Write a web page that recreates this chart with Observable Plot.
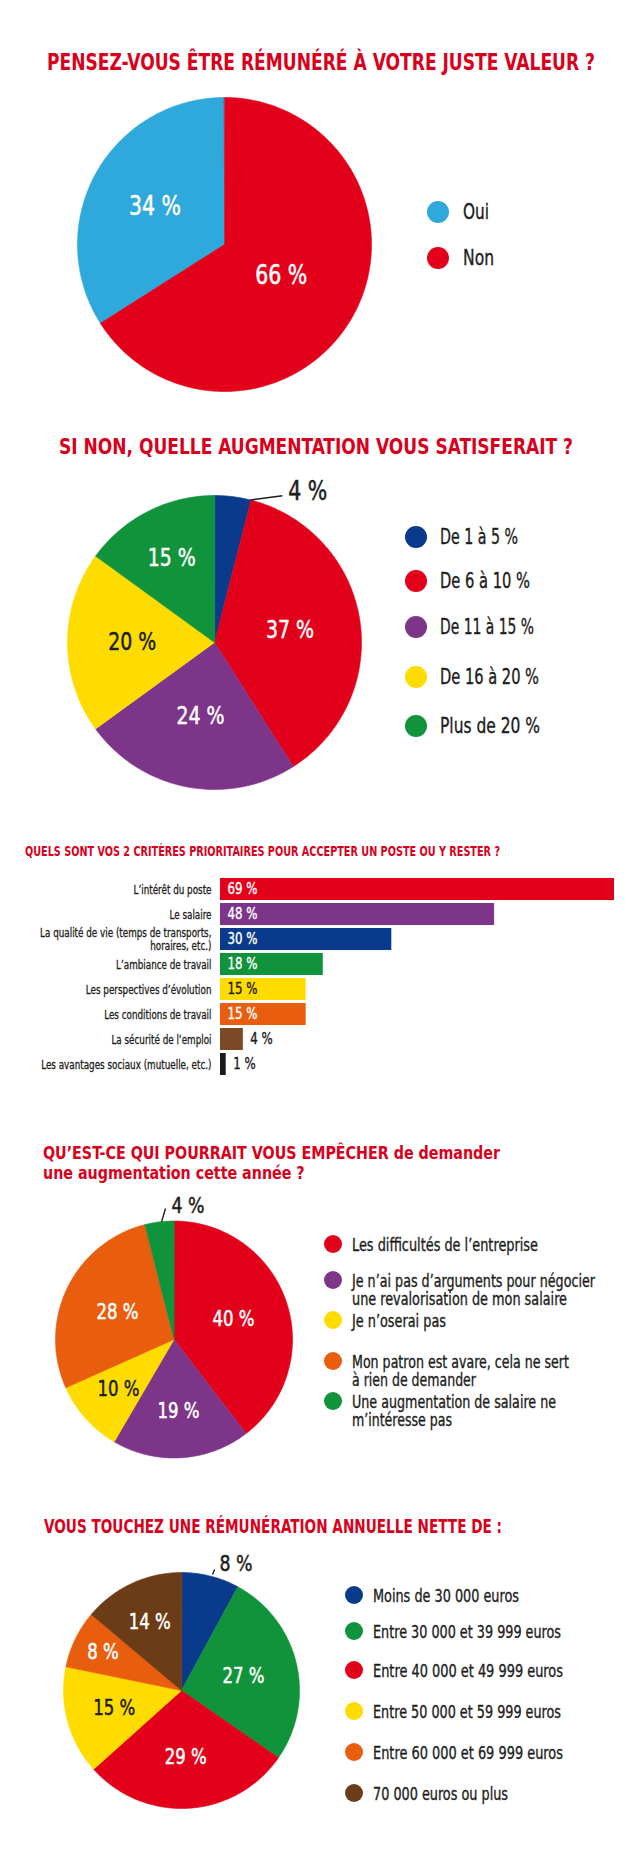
<!DOCTYPE html>
<html lang="fr">
<head>
<meta charset="utf-8">
<script src="https://cdn.jsdelivr.net/npm/d3@7"></script>
<script src="https://cdn.jsdelivr.net/npm/@observablehq/plot@0.6"></script>
<style>
  html, body { margin: 0; padding: 0; background: #fff; }
  #page { position: relative; width: 638px; height: 1851px; overflow: hidden; background: #fff;
    font-family: "Liberation Sans Narrow", "DejaVu Sans Condensed", "Arial Narrow", "DejaVu Sans", sans-serif;
    font-stretch: condensed; color: #1d1d1b; }
  .t { position: absolute; white-space: nowrap; transform-origin: 0 50%; }
  .dot { position: absolute; border-radius: 50%; }
  .plot { position: absolute; left: 0; }
  .plot svg { display: block; font-stretch: condensed; }
  .plot svg g[aria-label="y-axis tick label"] text { stroke: #1d1d1b; stroke-width: 0.3px; paint-order: stroke; }
</style>
</head>
<body>
<div id="page"></div>
<script>
// ---------------- DATA ----------------
const titles = [
  "PENSEZ-VOUS ÊTRE RÉMUNÉRÉ À VOTRE JUSTE VALEUR ?",
  "SI NON, QUELLE AUGMENTATION VOUS SATISFERAIT ?",
  "QUELS SONT VOS 2 CRITÈRES PRIORITAIRES POUR ACCEPTER UN POSTE OU Y RESTER ?",
  "QU’EST-CE QUI POURRAIT VOUS EMPÊCHER de demander\nune augmentation cette année ?",
  "VOUS TOUCHEZ UNE RÉMUNÉRATION ANNUELLE NETTE DE :"
];

const q1Categories = ["Oui", "Non"];
const q1Values = [34, 66];

const q2Categories = ["De 1 à 5 %", "De 6 à 10 %", "De 11 à 15 %", "De 16 à 20 %", "Plus de 20 %"];
const q2Values = [4, 37, 24, 20, 15];

const q3Categories = [
  "L’intérêt du poste",
  "Le salaire",
  "La qualité de vie (temps de transports, horaires, etc.)",
  "L’ambiance de travail",
  "Les perspectives d’évolution",
  "Les conditions de travail",
  "La sécurité de l’emploi",
  "Les avantages sociaux (mutuelle, etc.)"
];
const q3Values = [69, 48, 30, 18, 15, 15, 4, 1];

const q4Categories = [
  "Les difficultés de l’entreprise",
  "Je n’ai pas d’arguments pour négocier\nune revalorisation de mon salaire",
  "Je n’oserai pas",
  "Mon patron est avare, cela ne sert\nà rien de demander",
  "Une augmentation de salaire ne\nm’intéresse pas"
];
const q4Values = [40, 19, 10, 28, 4];

const q5Categories = [
  "Moins de 30 000 euros",
  "Entre 30 000 et 39 999 euros",
  "Entre 40 000 et 49 999 euros",
  "Entre 50 000 et 59 999 euros",
  "Entre 60 000 et 69 999 euros",
  "70 000 euros ou plus"
];
const q5Values = [8, 27, 29, 15, 8, 14];

// ---------------- STYLE ----------------
const RED = "#e2001a", LBLUE = "#2fa8dc", NAVY = "#0a3a8c", PURPLE = "#7d358a",
      YELLOW = "#ffdc00", GREEN = "#10933a", ORANGE = "#e95d0f", BROWN = "#6b3c16",
      TITLE = "#d9001c", INK = "#1d1d1b";
const FONT = '"Liberation Sans Narrow", "DejaVu Sans Condensed", "Arial Narrow", "DejaVu Sans", sans-serif';

const q1Colors = [LBLUE, RED];
const q2Colors = [NAVY, RED, PURPLE, YELLOW, GREEN];
const q3Colors = [RED, PURPLE, NAVY, GREEN, YELLOW, ORANGE, "#7b4a25", "#1a1a1a"];
const q4Colors = [RED, PURPLE, YELLOW, ORANGE, GREEN];
const q5Colors = [NAVY, GREEN, RED, YELLOW, ORANGE, BROWN];

// ---------------- HELPERS ----------------
const page = document.getElementById("page");
const fits = [];

function addText(str, o) {
  const el = document.createElement("div");
  el.className = "t";
  const lines = str.split("\n");
  lines.forEach((line, j) => {
    if (j) el.appendChild(document.createElement("br"));
    el.appendChild(document.createTextNode(line));
  });
  const lh = o.lh || o.size;
  el.style.left = o.x + "px";
  el.style.fontSize = o.size + "px";
  el.style.lineHeight = lh + "px";
  el.style.fontWeight = o.weight || 400;
  el.style.color = o.color || INK;
  const base = (lh - 1.117 * o.size) / 2 + 0.905 * o.size; // baseline offset inside the first line box
  const top = o.baseline != null ? o.baseline - base : o.cy + 0.3645 * o.size - base;
  el.style.top = top + "px";
  if (lines.length > 1) el.style.transformOrigin = "0 0";
  if (o.stroke) el.style.webkitTextStroke = o.stroke + "px " + (o.color || INK);
  page.appendChild(el);
  if (o.width) fits.push([el, o.width]);
  return el;
}
function addDot(x, y, r, color) {
  const d = document.createElement("div");
  d.className = "dot";
  Object.assign(d.style, {left: (x - r) + "px", top: (y - r) + "px", width: 2 * r + "px", height: 2 * r + "px", background: color});
  page.appendChild(d);
}
function doFit() {
  for (const [el, w] of fits) {
    el.style.transform = "none";
    const a = el.getBoundingClientRect().width;
    if (a > 0) el.style.transform = `scaleX(${w / a})`;
  }
}
function place(node, top) {
  const wrap = document.createElement("div");
  wrap.className = "plot";
  wrap.style.top = top + "px";
  wrap.appendChild(node);
  page.appendChild(wrap);
  return node;
}
// width of a string as SVG text in the page font (to compress SVG labels like the narrow original face)
function measureSvg(str, size) {
  const ns = "http://www.w3.org/2000/svg";
  const svg = document.createElementNS(ns, "svg");
  svg.setAttribute("style", `position:absolute;left:0;top:0;font-family:${FONT};font-stretch:condensed`);
  const t = document.createElementNS(ns, "text");
  t.setAttribute("font-size", size);
  t.textContent = str;
  svg.appendChild(t);
  page.appendChild(svg);
  const w = t.getComputedTextLength();
  page.removeChild(svg);
  return w;
}
let kText = 1, kNum = 1;
function condense(svg) {
  svg.querySelectorAll("text").forEach(t => {
    const k = /^\s*\d+\s*%\s*$/.test(t.textContent) ? kNum : kText;
    if (t.dataset.base == null) t.dataset.base = t.getAttribute("transform") || "";
    const tr = t.dataset.base;
    if (Math.abs(k - 1) < 0.01) return;
    if (tr.includes("translate")) t.setAttribute("transform", tr + ` scale(${k},1)`);
    else {
      const x = +t.getAttribute("x") || 0;
      t.setAttribute("transform", `translate(${x},0) scale(${k},1) translate(${-x},0)`);
    }
  });
}

// Pie chart drawn through Plot x/y/color scales (unit-circle coordinates)
function piePlot(categories, values, colors, L) {
  const rows = categories.map((c, i) => ({key: c, value: values[i]}));
  const gen = d3.pie().sort(null).value(d => d.value);
  if (L.ccw) gen.startAngle(2 * Math.PI).endAngle(0);
  const arcs = gen(rows);
  const pts = [];
  for (const a of arcs) {
    const n = Math.max(2, Math.ceil(Math.abs(a.endAngle - a.startAngle) / (Math.PI / 180)));
    pts.push({key: a.data.key, x: 0, y: 0});
    for (let k = 0; k <= n; k++) {
      const t = a.startAngle + (a.endAngle - a.startAngle) * k / n;
      pts.push({key: a.data.key, x: Math.sin(t), y: Math.cos(t)});
    }
  }
  const labels = [];
  arcs.forEach((a, i) => {
    const rr = L.labelR[i];
    if (rr == null) return;
    const m = (a.startAngle + a.endAngle) / 2;
    labels.push({text: `${a.data.value} %`, x: rr * Math.sin(m), y: rr * Math.cos(m), dark: L.dark.includes(i)});
  });
  const marks = [
    Plot.line(pts, {x: "x", y: "y", z: "key", fill: "key", stroke: "key", strokeWidth: 0.6, curve: "linear-closed"}),
    Plot.text(labels.filter(d => !d.dark), {x: "x", y: "y", text: "text", fill: "white", stroke: "white", strokeWidth: 0.5, fontSize: L.fs}),
    Plot.text(labels.filter(d => d.dark), {x: "x", y: "y", text: "text", fill: INK, stroke: INK, strokeWidth: 0.5, fontSize: L.fs})
  ];
  if (L.ext) {
    const e = L.ext, rad = Math.PI / 180;
    const seg = [{
      x1: e.from[1] * Math.sin(e.from[0] * rad), y1: e.from[1] * Math.cos(e.from[0] * rad),
      x2: e.to[1] * Math.sin(e.to[0] * rad), y2: e.to[1] * Math.cos(e.to[0] * rad),
      text: `${values[e.index]} %`
    }];
    marks.push(Plot.link(seg, {x1: "x1", y1: "y1", x2: "x2", y2: "y2", stroke: INK, strokeWidth: 1.4}));
    marks.push(Plot.text(seg, {x: "x2", y: "y2", text: "text", dx: e.dx, dy: e.dy, textAnchor: "start",
      fill: INK, stroke: INK, strokeWidth: 0.5, fontSize: e.fs}));
  }
  const cy = L.cy - L.top;
  return Plot.plot({
    width: 638, height: L.height, margin: 0,
    style: {fontFamily: FONT, background: "transparent", overflow: "visible"},
    x: {domain: [-1, 1], range: [L.cx - L.r, L.cx + L.r], axis: null},
    y: {domain: [-1, 1], range: [cy + L.r, cy - L.r], axis: null},
    color: {type: "ordinal", domain: categories, range: colors},
    marks
  });
}

function legend(categories, colors, L) {
  categories.forEach((c, i) => {
    addDot(L.dotX, L.ys[i], L.r, colors[i]);
    c.split("\n").forEach((line, j) => {
      addText(line, {x: L.textX, cy: L.ys[i] + j * L.lh, size: L.fs, lh: L.lh - 1, stroke: 0.35,
        width: L.widths ? L.widths[i][j] : null});
    });
  });
}

const svgs = [];

// ---------------- SECTION 1 ----------------
addText(titles[0], {x: 47, baseline: 70, size: 23, weight: 700, color: TITLE, width: 548});
svgs.push(place(piePlot(q1Categories, q1Values, q1Colors, {
  top: 90, height: 310, cx: 224, cy: 244, r: 147, ccw: true, fs: 26,
  labelR: [0.54, 0.44], dark: []
}), 90));
legend(q1Categories, q1Colors, {dotX: 438, ys: [212, 258], r: 11, textX: 463, fs: 21, lh: 21, widths: [[26], [31]]});

// ---------------- SECTION 2 ----------------
addText(titles[1], {x: 59, baseline: 455, size: 22, weight: 700, color: TITLE, width: 514});
svgs.push(place(piePlot(q2Categories, q2Values, q2Colors, {
  top: 470, height: 330, cx: 214, cy: 642, r: 147, fs: 24,
  labelR: [null, 0.52, 0.51, 0.56, 0.64], dark: [3],
  ext: {index: 0, from: [14.2, 1.0], to: [24.8, 1.10], dx: 6, dy: -4, fs: 26}
}), 470));
legend(q2Categories, q2Colors, {dotX: 416, ys: [537, 581, 627, 677, 726], r: 11, textX: 440, fs: 21, lh: 21,
  widths: [[78], [90], [94], [99], [100]]});

// ---------------- SECTION 3 (bars) ----------------
addText(titles[2], {x: 25, baseline: 856, size: 13.5, weight: 700, color: TITLE, width: 475});
{
  const rows = q3Categories.map((c, i) => ({label: c, value: q3Values[i], i}));
  const darkInside = [4];
  const inside = rows.filter(d => d.value >= 10);
  const bars = Plot.plot({
    width: 638, height: 225, marginLeft: 220, marginRight: 24, marginTop: 0, marginBottom: 0,
    style: {fontFamily: FONT, color: INK, background: "transparent", overflow: "visible"},
    x: {domain: [0, 69], axis: null},
    y: {domain: q3Categories, range: [10.5, 218.5], paddingInner: 0.115, paddingOuter: 0.0577, label: null},
    color: {type: "ordinal", domain: q3Categories, range: q3Colors},
    marks: [
      Plot.barX(rows, {x: "value", y: "label", fill: "label"}),
      Plot.axisY({tickSize: 0, tickPadding: 9, fontSize: 12.5, label: null, lineHeight: 1.04,
        tickFormat: d => d.replace("transports, ", "transports,\n")}),
      Plot.text(inside.filter(d => !darkInside.includes(d.i)), {x: 0, y: "label", text: d => `${d.value} %`, dx: 7,
        textAnchor: "start", fill: "white", stroke: "white", strokeWidth: 0.35, fontSize: 15}),
      Plot.text(inside.filter(d => darkInside.includes(d.i)), {x: 0, y: "label", text: d => `${d.value} %`, dx: 7,
        textAnchor: "start", fill: INK, stroke: INK, strokeWidth: 0.35, fontSize: 15}),
      Plot.text(rows.filter(d => d.value < 10), {x: "value", y: "label", text: d => `${d.value} %`, dx: 7,
        textAnchor: "start", fill: INK, stroke: INK, strokeWidth: 0.35, fontSize: 15})
    ]
  });
  svgs.push(place(bars, 862));
}

// ---------------- SECTION 4 ----------------
addText(titles[3], {x: 43, baseline: 1159, size: 17.5, lh: 20.5, weight: 700, color: TITLE, width: 457});
svgs.push(place(piePlot(q4Categories, q4Values, q4Colors, {
  top: 1190, height: 275, cx: 173.5, cy: 1339, r: 118.5, fs: 21,
  labelR: [0.53, 0.61, 0.63, 0.53, null], dark: [2],
  ext: {index: 4, from: [354, 1.0], to: [356.3, 1.108], dx: 6, dy: -3, fs: 22}
}), 1190));
legend(q4Categories, q4Colors, {dotX: 333, ys: [1244, 1280, 1320, 1361, 1401], r: 9, textX: 352, fs: 18, lh: 18,
  widths: [[186], [243, 215], [94], [217, 124], [204, 100]]});

// ---------------- SECTION 5 ----------------
addText(titles[4], {x: 44, baseline: 1533, size: 20, weight: 700, color: TITLE, width: 458});
svgs.push(place(piePlot(q5Categories, q5Values, q5Colors, {
  top: 1545, height: 275, cx: 181, cy: 1690, r: 118, fs: 21,
  labelR: [null, 0.54, 0.57, 0.59, 0.74, 0.64], dark: [3],
  ext: {index: 0, from: [15, 1.017], to: [15.3, 1.063], dx: 5, dy: -6, fs: 22}
}), 1545));
legend(q5Categories, q5Colors, {dotX: 354, ys: [1595, 1631, 1670, 1711, 1752, 1793], r: 9, textX: 373, fs: 18, lh: 18,
  widths: [[146], [188], [190], [188], [190], [135]]});

function finish() {
  kText = 78 / measureSvg("L’intérêt du poste", 12.5);
  kNum = 52 / measureSvg("66 %", 26);
  svgs.forEach(condense);
  doFit();
}
finish();
if (document.fonts && document.fonts.ready) document.fonts.ready.then(finish);
</script>
</body>
</html>
